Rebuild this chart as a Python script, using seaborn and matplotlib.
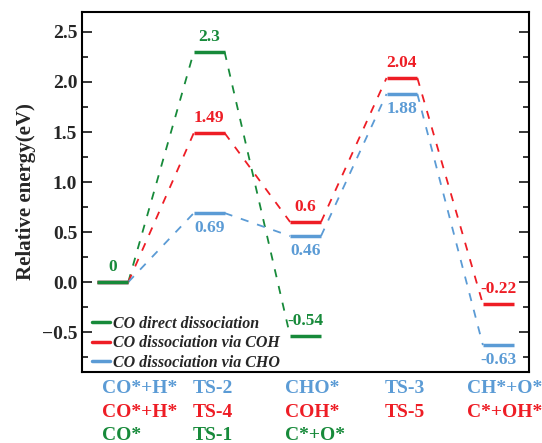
import pandas as pd
import numpy as np
import matplotlib
matplotlib.use("Agg")
import matplotlib.pyplot as plt
import seaborn as sns
from matplotlib.ticker import MultipleLocator
from matplotlib.lines import Line2D

sns.set_style("ticks")
plt.rcParams['font.family'] = ['Liberation Serif', 'DejaVu Serif']
plt.rcParams['font.weight'] = 'bold'

# energies of each pathway (eV) at the step positions
direct_steps = [0, 1, 2]
direct_e = [0, 2.3, -0.54]
coh_steps = [0, 1, 2, 3, 4]
coh_e = [0, 1.49, 0.6, 2.04, -0.22]
cho_steps = [0, 1, 2, 3, 4]
cho_e = [0, 0.69, 0.46, 1.88, -0.63]

names = ["CO direct dissociation", "CO dissociation via COH", "CO dissociation via CHO"]
colors = ["#178A3A", "#EE1D25", "#5B9BD5"]

# labels under the axis, one row per pathway
cho_names = ["CO*+H*", "TS-2", "CHO*", "TS-3", "CH*+O*"]
coh_names = ["CO*+H*", "TS-4", "COH*", "TS-5", "C*+OH*"]
direct_names = ["CO*", "TS-1", "C*+O*"]

w = 0.16  # half width of a level bar

paths = [(direct_steps, direct_e), (coh_steps, coh_e), (cho_steps, cho_e)]

# dashed connectors: right end of a level to left end of the next
rows = []
for name, (xs, es) in zip(names, paths):
    for k in range(len(xs) - 1):
        rows.append({"path": name, "seg": k, "x": xs[k] + w, "E": es[k]})
        rows.append({"path": name, "seg": k, "x": xs[k + 1] - w, "E": es[k + 1]})
conn = pd.DataFrame(rows)

fig = plt.figure(figsize=(5.42, 4.43), dpi=100)
ax = fig.add_axes([0.1513, 0.160, 0.825, 0.813])

pal = dict(zip(names, colors))
dash_map = {n: (4.5, 5) for n in names}
sns.lineplot(data=conn, x="x", y="E", hue="path", style="path", units="seg",
             estimator=None, sort=False, palette=pal, dashes=dash_map,
             linewidth=1.3, ax=ax, legend=False)

# levels, drawn so that green ends on top at 0
for name, (xs, es), c, z in zip(names[::-1], paths[::-1], colors[::-1], [3, 4, 5]):
    ax.hlines(es, np.array(xs) - w, np.array(xs) + w, color=c, linewidth=2.5, zorder=z)

# value labels: blue under its bars, others above
for (xs, es), c, below in zip(paths, colors, [False, False, True]):
    for i, (x, e) in enumerate(zip(xs, es)):
        if i == 0 and c != colors[0]:
            continue
        ax.annotate(f"{e:g}", (x, e), xytext=(0, -11 if below else 11),
                    textcoords="offset points", ha="center", va="center",
                    color=c, fontsize=12.5, fontweight="bold")

ax.set_xlim(-0.32, 4.32)
ax.set_ylim(-0.9, 2.7)
ax.set_xticks([])
ax.yaxis.set_major_locator(MultipleLocator(0.5))
ax.yaxis.set_minor_locator(MultipleLocator(0.25))
ax.tick_params(axis="y", which="both", direction="in", right=True, width=1.3,
               labelsize=14)
ax.tick_params(axis="y", which="major", length=7)
ax.tick_params(axis="y", which="minor", length=4)
for s in ax.spines.values():
    s.set_linewidth(1.5)
    s.set_color("black")
ax.set_ylabel("Relative energy(eV)", fontsize=15, fontweight="bold", labelpad=4)
ax.set_xlabel("")

# legend
handles = [Line2D([], [], color=c, linewidth=2.5) for c in colors]
ax.legend(handles, names, loc="lower left", frameon=False, handlelength=1.1,
          handletextpad=0.2, borderaxespad=0.25, labelspacing=0.22,
          prop={"family": "Liberation Serif", "style": "italic", "weight": "bold", "size": 11.5},
          bbox_to_anchor=(0.0, -0.025))

# category names below the axis
label_x = [-0.11, 0.83, 1.79, 2.82, 3.68]
for names_row, c, y in [(cho_names, colors[2], -1.06), (coh_names, colors[1], -1.30),
                        (direct_names, colors[0], -1.53)]:
    for x, t in zip(label_x, names_row):
        ax.text(x, y, t, color=c, fontsize=14, fontweight="bold", ha="left",
                va="center", clip_on=False)

fig.savefig("out.png", dpi=100)
